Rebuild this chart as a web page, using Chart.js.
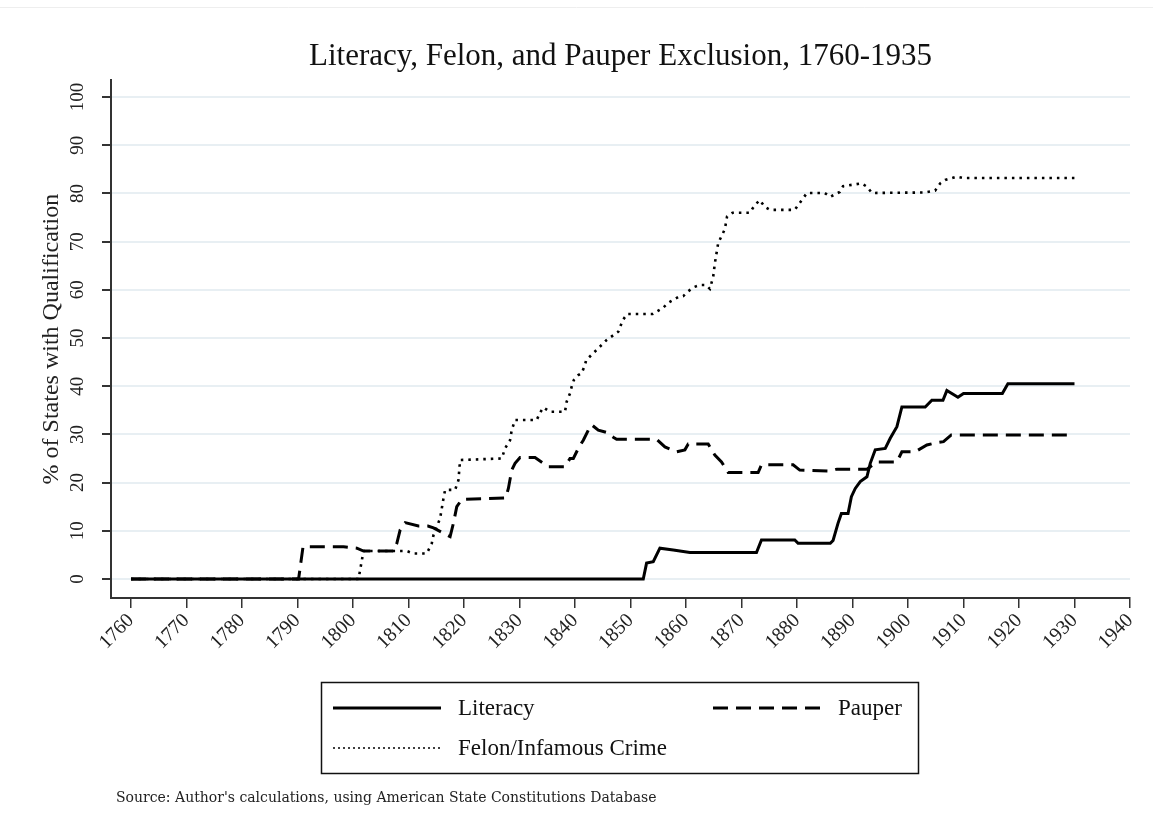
<!DOCTYPE html>
<html>
<head>
<meta charset="utf-8">
<title>Literacy, Felon, and Pauper Exclusion, 1760-1935</title>
<script src="https://cdn.jsdelivr.net/npm/chart.js@4.4.1/dist/chart.umd.min.js"></script>
<style>
  html, body { margin: 0; padding: 0; background: #fff; }
  #wrap { width: 1153px; height: 837px; position: relative; }
</style>
</head>
<body>
<div id="wrap"><canvas id="exclusionChart"></canvas></div>
<script>
// Values (year, % of states)
const literacyYears = [1760, 1852.3, 1852.9, 1854.1, 1855.3, 1857.7, 1860.7, 1872.7, 1873.6, 1879.6, 1880.2, 1886, 1886.5, 1887.4, 1888, 1889.2, 1889.8, 1890.5, 1891.4, 1892.6, 1893.2, 1894.1, 1895.9, 1896.8, 1898, 1898.9, 1903.1, 1904.3, 1906.3, 1907, 1909, 1910, 1917, 1918, 1930];
const literacyValues = [0, 0, 3.3, 3.6, 6.4, 6.0, 5.5, 5.5, 8.1, 8.1, 7.4, 7.4, 8, 11.6, 13.6, 13.6, 17.1, 18.8, 20.2, 21.2, 24, 26.8, 27.1, 29.2, 31.6, 35.7, 35.7, 37.1, 37.1, 39.1, 37.7, 38.5, 38.5, 40.5, 40.5];

const pauperYears = [1760, 1790.2, 1791, 1798.3, 1800.7, 1801.9, 1807.3, 1807.9, 1808.5, 1809.4, 1811.8, 1813.5, 1814.5, 1816.3, 1817.5, 1818.1, 1818.7, 1819.6, 1827.5, 1828, 1828.6, 1829.2, 1830.1, 1832.8, 1834.3, 1835.2, 1838.2, 1839.1, 1839.7, 1840.6, 1841.5, 1842.4, 1843, 1844.2, 1845.7, 1846.9, 1847.5, 1854.7, 1856.2, 1858.3, 1859.8, 1860.4, 1864, 1865.2, 1866.4, 1867.6, 1873, 1873.6, 1879.3, 1880.5, 1886, 1887.2, 1892.6, 1894.4, 1898, 1898.9, 1901.3, 1903.4, 1905.2, 1906.4, 1907.8, 1930];
const pauperValues = [0, 0, 6.7, 6.7, 6.4, 5.8, 5.8, 7.4, 10.2, 11.7, 11, 11, 10.6, 9.5, 8.8, 11.6, 15, 16.5, 16.8, 18.8, 22.6, 24, 25.2, 25.2, 24, 23.3, 23.3, 25, 25, 27.1, 28.8, 30.9, 32, 30.9, 30.4, 29.4, 29, 29, 27.4, 26.4, 26.8, 28, 28, 25.7, 24.3, 22.1, 22.1, 23.7, 23.7, 22.6, 22.4, 22.8, 22.8, 24.3, 24.3, 26.4, 26.4, 27.8, 28.3, 28.5, 29.9, 29.9];

const felonYears = [1760, 1801, 1801.6, 1801.9, 1809.7, 1810.9, 1813.3, 1814.2, 1814.5, 1815.7, 1816.3, 1816.6, 1818.4, 1819, 1819.3, 1826.8, 1827.4, 1828.3, 1828.6, 1829.2, 1833.1, 1833.7, 1834.3, 1835.5, 1838.2, 1838.5, 1839.1, 1839.4, 1839.8, 1840.6, 1841.2, 1841.8, 1842, 1843.6, 1845.7, 1847.8, 1848.6, 1849.4, 1854, 1855.8, 1856.8, 1858.6, 1859.5, 1860.4, 1861.5, 1862.5, 1863.6, 1864.3, 1864.9, 1865.2, 1865.8, 1867, 1867.4, 1868.4, 1871.5, 1872.4, 1873.3, 1874.2, 1875.1, 1879.6, 1881.1, 1881.8, 1885, 1886, 1887.7, 1888.3, 1891.6, 1892.6, 1893.5, 1903, 1904.9, 1905.8, 1906.7, 1908.8, 1910, 1930];
const felonValues = [0, 0, 3.9, 5.8, 5.8, 5.3, 5.3, 7.4, 9.1, 12.6, 16.7, 18.5, 18.5, 20.5, 24.7, 25, 27.1, 28.8, 30.9, 33, 33, 34.5, 35.6, 34.7, 34.7, 36.8, 38.5, 39.9, 41.3, 42.3, 42.7, 44.4, 45.4, 47.2, 49.6, 51.3, 53.7, 55, 55, 56.2, 57.3, 58.5, 58.7, 59.7, 60.6, 61, 61, 60.2, 62.7, 65.5, 69.7, 72.6, 75.2, 76, 76, 77.6, 78.6, 77.2, 76.6, 76.6, 79, 80.1, 80.1, 79.3, 80.3, 81.5, 82.1, 81.4, 80.1, 80.2, 80.6, 82.1, 82.8, 83.5, 83.2, 83.2];

const xTicks = [1760, 1770, 1780, 1790, 1800, 1810, 1820, 1830, 1840, 1850, 1860, 1870, 1880, 1890, 1900, 1910, 1920, 1930, 1940];
const yTicks = [0, 10, 20, 30, 40, 50, 60, 70, 80, 90, 100];

const seriesNames = ["Literacy", "Pauper", "Felon/Infamous Crime"];

const serif = "'Liberation Serif', 'DejaVu Serif', serif";

function toPoints(xs, ys) {
    return xs.map((x, i) => ({ x: x, y: ys[i] }));
}

// legend box + source note + page frame
const extrasPlugin = {
    id: "extras",
    beforeDraw(chart) {
        const c = chart.ctx;
        c.save();
        c.fillStyle = "#fff";
        c.fillRect(0, 0, chart.width, chart.height);
        c.strokeStyle = "#eeeeee";
        c.lineWidth = 1;
        c.beginPath();
        c.moveTo(0, 7.5);
        c.lineTo(chart.width, 7.5);
        c.stroke();
        c.restore();
    },
    afterDraw(chart) {
        const c = chart.ctx;
        const ds = chart.data.datasets;
        c.save();
        // legend frame
        c.strokeStyle = "#111";
        c.lineWidth = 1.5;
        c.strokeRect(321.5, 682.5, 597, 91);

        const entries = [
            { d: ds[0], x: 333, y: 708, dash: [], w: 3 },
            { d: ds[1], x: 713, y: 708, dash: [15, 8], w: 3 },
            { d: ds[2], x: 333, y: 748, dash: [2, 3], w: 1.6 }
        ];
        entries.forEach(e => {
            c.beginPath();
            c.setLineDash(e.dash);
            c.lineWidth = e.w;
            c.strokeStyle = e.d.borderColor;
            c.moveTo(e.x, e.y);
            c.lineTo(e.x + 108, e.y);
            c.stroke();
            c.setLineDash([]);
            c.fillStyle = "#111";
            c.font = "23px " + serif;
            c.textBaseline = "middle";
            c.fillText(e.d.label, e.x + 125, e.y + 1);
        });

        c.font = "14px 'DejaVu Serif', serif";
        c.fillStyle = "#222";
        c.textBaseline = "middle";
        c.fillText("Source: Author's calculations, using American State Constitutions Database", 116, 798);
        c.restore();
    }
};

const ctx = document.getElementById("exclusionChart").getContext("2d");
const exclusionChart = new Chart(ctx, {
    type: "line",
    data: {
        datasets: [
            { label: seriesNames[0], data: toPoints(literacyYears, literacyValues), borderColor: "#000", borderWidth: 3, pointRadius: 0, tension: 0 },
            { label: seriesNames[1], data: toPoints(pauperYears, pauperValues), borderColor: "#000", borderWidth: 3, borderDash: [15, 8], pointRadius: 0, tension: 0 },
            { label: seriesNames[2], data: toPoints(felonYears, felonValues), borderColor: "#000", borderWidth: 2.6, borderDash: [2.5, 5], pointRadius: 0, tension: 0 }
        ]
    },
    options: {
        responsive: true,
        maintainAspectRatio: false,
        animation: false,
        layout: { padding: { left: 0, right: 23, top: 0, bottom: 169 } },
        plugins: {
            legend: { display: false },
            tooltip: { enabled: false },
            title: {
                display: true,
                text: "Literacy, Felon, and Pauper Exclusion, 1760-1935",
                fullSize: false,
                color: "#111",
                font: { family: serif, size: 31, weight: "normal" },
                padding: { top: 38, bottom: 5 }
            }
        },
        scales: {
            x: {
                type: "linear",
                min: 1756.4,
                max: 1940,
                afterBuildTicks: (scale) => { scale.ticks = xTicks.map(v => ({ value: v })); },
                afterFit: (scale) => { scale.height = 70; },
                border: { color: "#333", width: 2 },
                grid: { drawOnChartArea: false, drawTicks: true, tickLength: 10, tickColor: "#333", lineWidth: 1.5 },
                ticks: {
                    color: "#222",
                    font: { family: serif, size: 20 },
                    minRotation: 45,
                    maxRotation: 45,
                    padding: 1,
                    callback: (v) => String(v)
                }
            },
            y: {
                type: "linear",
                min: -3.94,
                max: 103.5,
                afterBuildTicks: (scale) => { scale.ticks = yTicks.map(v => ({ value: v })); },
                afterFit: (scale) => { scale.width = 111; },
                border: { color: "#333", width: 2 },
                grid: { color: "#e8eff3", lineWidth: 2, drawTicks: true, tickLength: 9, tickColor: "#333" },
                ticks: {
                    color: "#222",
                    font: { family: serif, size: 19 },
                    minRotation: 90,
                    maxRotation: 90,
                    crossAlign: "center",
                    padding: 10,
                    callback: (v) => String(v)
                },
                title: {
                    display: true,
                    text: "% of States with Qualification",
                    color: "#222",
                    font: { family: serif, size: 24 },
                    padding: { top: 37, bottom: 0 }
                }
            }
        }
    },
    plugins: [extrasPlugin]
});
</script>
</body>
</html>
